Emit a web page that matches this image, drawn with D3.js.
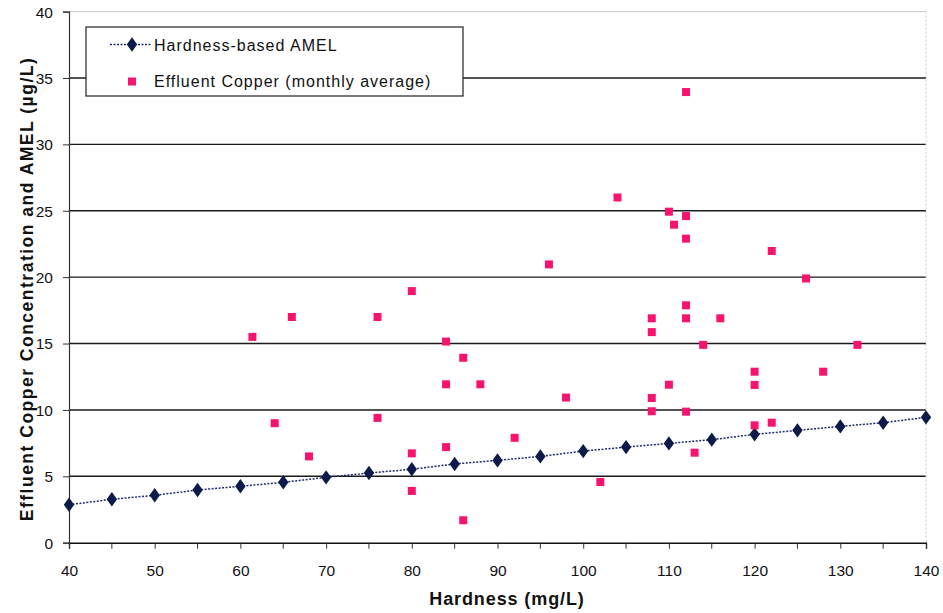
<!DOCTYPE html>
<html>
<head>
<meta charset="utf-8">
<script src="https://cdn.jsdelivr.net/npm/d3@7"></script>
<style>
  body { margin: 0; background: #fff; }
  svg { display: block; font-family: Arial, "Liberation Sans", sans-serif; }
</style>
</head>
<body>
<div id="chart"></div>
<script>
// Hardness-based AMEL line
const amelHardness = [40, 45, 50, 55, 60, 65, 70, 75, 80, 85, 90, 95, 100, 105, 110, 115, 120, 125, 130, 135, 140];
const amelValues = [2.86, 3.27, 3.57, 3.97, 4.25, 4.55, 4.92, 5.25, 5.53, 5.93, 6.2, 6.5, 6.9, 7.2, 7.48, 7.76, 8.16, 8.46, 8.76, 9.04, 9.44];

// Effluent copper, monthly averages
const copperHardness = [61.4, 66, 64, 68, 76, 76, 80, 80, 80, 84, 84, 84, 86, 86, 88, 92, 96, 98, 102, 104,
    108, 108, 108, 108, 110, 110.6, 110, 112, 112, 112, 112, 112, 112, 113, 114, 116, 120, 120, 120, 122, 122, 126, 128, 132];
const copperValues = [15.5, 17, 9, 6.5, 17, 9.4, 18.95, 6.73, 3.9, 15.15, 11.93, 7.2, 13.93, 1.69, 11.93, 7.9, 20.96, 10.93, 4.57, 26,
    16.9, 15.86, 10.9, 9.9, 24.93, 23.95, 11.9, 33.94, 24.6, 22.9, 17.88, 16.9, 9.87, 6.78, 14.9, 16.9, 12.88, 11.88, 8.84, 21.97, 9.04, 19.9, 12.88, 14.9];

const xTicks = [40, 50, 60, 70, 80, 90, 100, 110, 120, 130, 140];
const yTicks = [0, 5, 10, 15, 20, 25, 30, 35, 40];

const width = 943, height = 613;
const margin = { top: 11.6, right: 17, bottom: 70.3, left: 69 };
const chartWidth = width - margin.left - margin.right;
const chartHeight = height - margin.top - margin.bottom;

const svg = d3.select('#chart').append('svg')
    .attr('width', width)
    .attr('height', height);

const g = svg.append('g')
    .attr('transform', `translate(${margin.left},${margin.top})`);

const x = d3.scaleLinear().domain([40, 140]).range([0, chartWidth]);
const y = d3.scaleLinear().domain([0, 40]).range([chartHeight, 0]);

// Horizontal gridlines
g.selectAll('.grid')
    .data(yTicks.filter(d => d > 0))
    .enter()
    .append('line')
    .attr('x1', 0)
    .attr('x2', chartWidth)
    .attr('y1', d => y(d))
    .attr('y2', d => y(d))
    .attr('stroke', d => d === 40 ? '#c8c8c8' : '#1a1a1a')
    .attr('stroke-width', d => d === 40 ? 1 : 1.4);

// right border, faint
g.append('line')
    .attr('x1', chartWidth).attr('x2', chartWidth)
    .attr('y1', 0).attr('y2', chartHeight)
    .attr('stroke', '#c8c8c8')
    .attr('stroke-dasharray', '2,2');

// Y axis
const yAxis = d3.axisLeft(y).tickValues(yTicks).tickSize(6).tickPadding(10);
g.append('g')
    .call(yAxis)
    .call(a => a.select('.domain').attr('stroke', '#333').attr('stroke-width', 1.2))
    .call(a => a.selectAll('.tick line').attr('stroke', '#333'))
    .selectAll('text')
    .style('font-size', '15.5px')
    .attr('dy', '0.35em')
    .style('fill', '#111');

// X axis
const xAxis = d3.axisBottom(x).tickValues(xTicks).tickSize(6).tickPadding(16);
g.append('g')
    .attr('transform', `translate(0,${chartHeight})`)
    .call(xAxis)
    .call(a => a.select('.domain').attr('stroke', '#111').attr('stroke-width', 1.4))
    .call(a => a.selectAll('.tick line').attr('stroke', '#333'))
    .selectAll('text')
    .style('font-size', '15.5px')
    .style('fill', '#111');

// minor x ticks at the AMEL points
g.append('g')
    .attr('transform', `translate(0,${chartHeight})`)
    .selectAll('line')
    .data(amelHardness.filter(d => d % 10 !== 0))
    .enter()
    .append('line')
    .attr('x1', d => x(d)).attr('x2', d => x(d))
    .attr('y1', 0).attr('y2', 6)
    .attr('stroke', '#333');

// Axis titles
svg.append('text')
    .attr('x', 507)
    .attr('y', 605)
    .attr('text-anchor', 'middle')
    .style('font-size', '18px')
    .style('font-weight', 'bold')
    .style('letter-spacing', '0.9px')
    .style('fill', '#111')
    .text('Hardness (mg/L)');

svg.append('text')
    .attr('transform', 'rotate(-90)')
    .attr('x', -289)
    .attr('y', 33)
    .attr('text-anchor', 'middle')
    .style('font-size', '17.5px')
    .style('font-weight', 'bold')
    .style('letter-spacing', '1.5px')
    .style('fill', '#111')
    .text('Effluent Copper Concentration and AMEL (µg/L)');

// AMEL line
const amelData = amelHardness.map((h, i) => ({ h, v: amelValues[i] }));
const line = d3.line().x(d => x(d.h)).y(d => y(d.v));

g.append('path')
    .datum(amelData)
    .attr('fill', 'none')
    .attr('stroke', '#1a2a6c')
    .attr('stroke-width', 1.5)
    .attr('stroke-dasharray', '2,1.5')
    .attr('d', line);

const diamond = d3.symbol().type(d3.symbolDiamond).size(60);
g.selectAll('.amel')
    .data(amelData)
    .enter()
    .append('path')
    .attr('d', diamond)
    .attr('transform', d => `translate(${x(d.h)},${y(d.v)}) scale(1.25,1)`)
    .attr('fill', '#0c1a4a');

// Effluent copper squares
const copperData = copperHardness.map((h, i) => ({ h, v: copperValues[i] }));
g.selectAll('.cu')
    .data(copperData)
    .enter()
    .append('rect')
    .attr('x', d => x(d.h) - 4)
    .attr('y', d => y(d.v) - 4)
    .attr('width', 8)
    .attr('height', 8)
    .attr('fill', '#f7146e');

// Legend
const legend = svg.append('g').attr('transform', 'translate(86,27)');
legend.append('rect')
    .attr('width', 377)
    .attr('height', 69)
    .attr('fill', '#fff')
    .attr('stroke', '#222')
    .attr('stroke-width', 1.2);

legend.append('line')
    .attr('x1', 24).attr('x2', 66)
    .attr('y1', 17.5).attr('y2', 17.5)
    .attr('stroke', '#1a2a6c')
    .attr('stroke-width', 1.5)
    .attr('stroke-dasharray', '2,1.5');
legend.append('path')
    .attr('d', diamond)
    .attr('transform', 'translate(46,17.5) scale(1.25,1)')
    .attr('fill', '#0c1a4a');
legend.append('text')
    .attr('x', 68).attr('y', 23.5)
    .style('font-size', '16px')
    .style('letter-spacing', '1px')
    .style('fill', '#111')
    .text('Hardness-based AMEL');

legend.append('rect')
    .attr('x', 42).attr('y', 50.5)
    .attr('width', 8).attr('height', 8)
    .attr('fill', '#f7146e');
legend.append('text')
    .attr('x', 68).attr('y', 60)
    .style('font-size', '16px')
    .style('letter-spacing', '1px')
    .style('fill', '#111')
    .text('Effluent Copper (monthly average)');
</script>
</body>
</html>
